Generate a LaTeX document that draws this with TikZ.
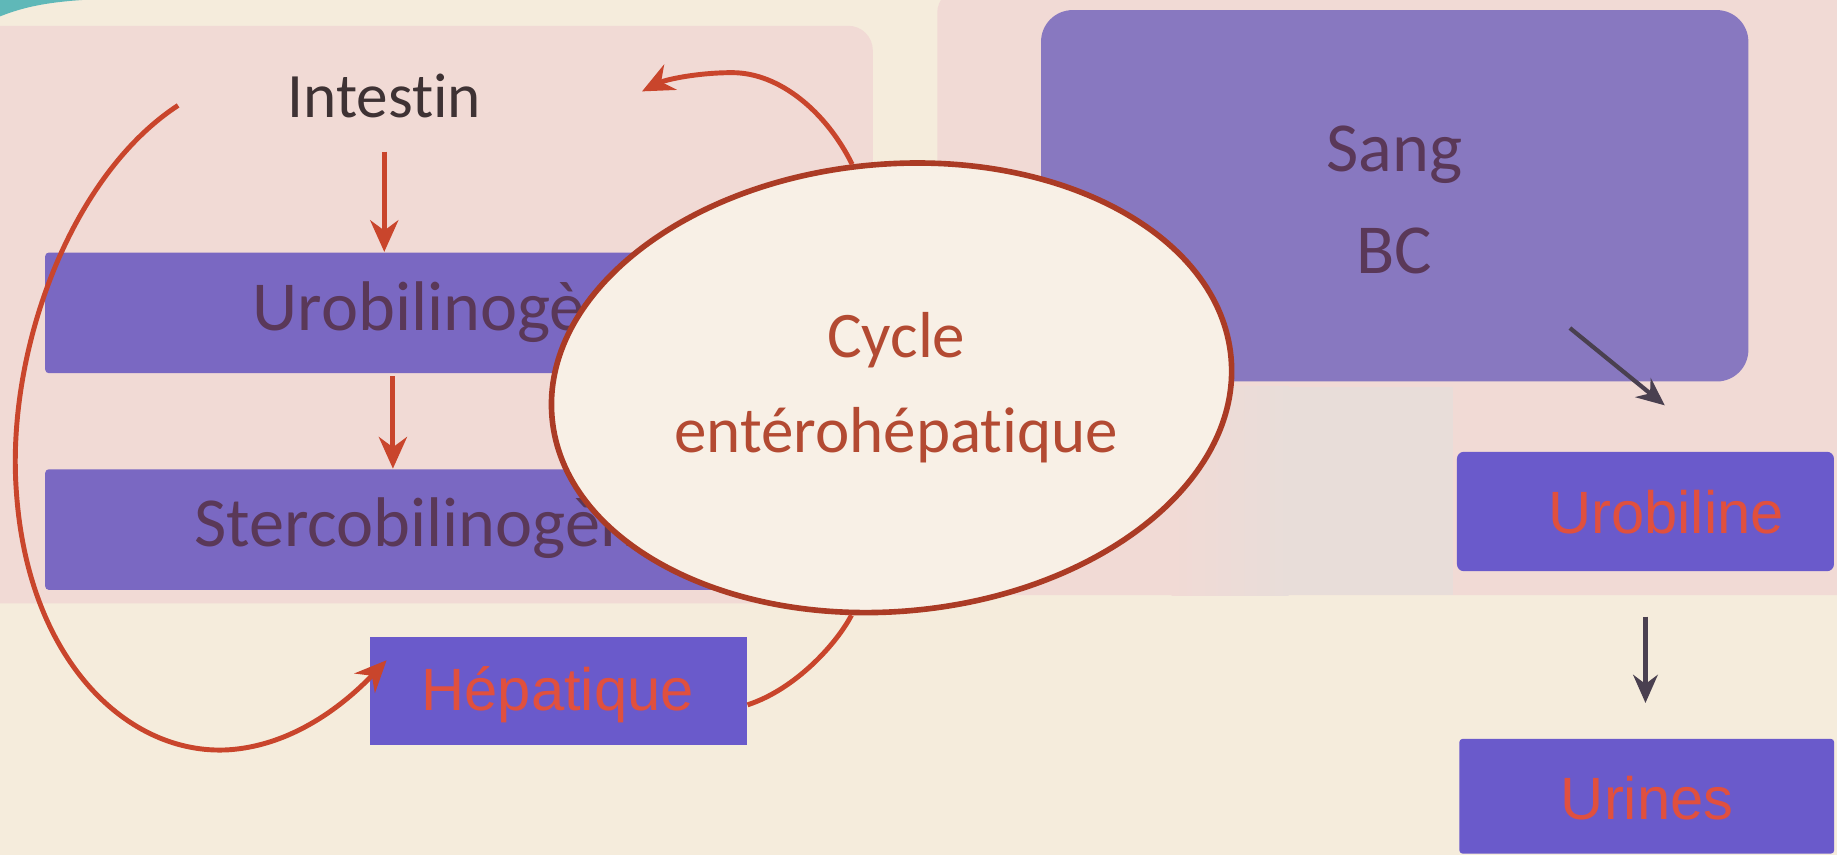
\documentclass[tikz,border=0pt]{standalone}
\usepackage{fontspec}
\setmainfont[Ligatures={NoCommon}]{Carlito}
\newfontfamily\arialfont{Liberation Sans}
\usetikzlibrary{arrows.meta,shapes.geometric}

\definecolor{paper}{HTML}{F5ECDC}
\definecolor{panel}{HTML}{F1DAD5}
\definecolor{panelgray}{HTML}{E8DDD9}
\definecolor{boxpurple}{HTML}{7A68C2}
\definecolor{boxlight}{HTML}{8878C0}
\definecolor{boxdeep}{HTML}{6A5ACB}
\definecolor{boxtext}{HTML}{5A3858}
\definecolor{flowred}{HTML}{C9452C}
\definecolor{redtext}{HTML}{E0503E}
\definecolor{cyclefill}{HTML}{F8F0E6}
\definecolor{cycletext}{HTML}{B34A32}
\definecolor{darkarrow}{HTML}{4A4050}
\definecolor{labeldark}{HTML}{3E3234}
\definecolor{slideedge}{HTML}{5FB8B8}

% one unit = 1/3 pt
\tikzset{
  px/.style={x=0.011716cm,y=-0.011716cm},
  stagebox/.style={fill=boxpurple,draw=none,rounded corners=1pt,inner sep=0pt},
  stagetext/.style={font=\fontsize{20}{22}\selectfont,text=boxtext,inner sep=0pt},
  redbox/.style={fill=boxdeep,draw=none,rounded corners=2pt,inner sep=0pt},
  redlabel/.style={font=\arialfont\fontsize{17}{20}\selectfont,text=redtext,inner sep=0pt},
  redflow/.style={draw=flowred,line width=1.4pt,-{Stealth[length=9pt,width=8pt]}},
  redcurve/.style={draw=flowred,line width=1.4pt},
  darkflow/.style={draw=darkarrow,line width=1.2pt,-{Stealth[length=8pt,width=7pt]}},
}

\begin{document}
\begin{tikzpicture}[px]
  % page and panels
  \fill[paper] (0,0) rectangle (1568,730);
  \useasboundingbox (0,0) rectangle (1568,730);
  \fill[slideedge] (0,0) -- (0,14) .. controls (20,6) and (40,2) .. (70,0) -- cycle;
  \fill[panel, rounded corners=7pt] (-20,22) rectangle (745,515);
  \fill[panel, rounded corners=7pt] (800,-10) rectangle (1590,508);
  \shade[left color=panel, right color=panelgray] (1000,330) rectangle (1100,508);
  \fill[panelgray] (1100,330) rectangle (1240,508);

  % left column
  \node[font=\fontsize{18}{20}\selectfont, text=labeldark] (intestin) at (328,82) {Intestin};
  \node[stagebox, minimum width=232.3pt, minimum height=34.3pt, anchor=north west] (urobilinogene) at (38,215) {};
  \node[stagetext, anchor=west] (urobilinogenelabel) at (215,266) {Urobilinogène};
  \node[stagebox, minimum width=222.3pt, minimum height=34.3pt, anchor=north west] (stercobilinogene) at (38,400) {};
  \node[stagetext, anchor=west] (stercobilinogenelabel) at (165,451) {Stercobilinogène};
  \node[redbox, rounded corners=0pt, minimum width=107.3pt, minimum height=30.7pt, anchor=north west] (hepatique) at (315,543) {};
  \node[redlabel] (hepatiquelabel) at (476,593) {Hépatique};

  % right column
  \node[fill=boxlight, rounded corners=9pt, minimum width=201.3pt, minimum height=105.7pt, anchor=north west] (sang) at (888,8) {};
  \node[stagetext] (sanglabel) at (1190,132) {Sang};
  \node[stagetext] (bclabel) at (1190,214) {BC};
  \node[redbox, minimum width=107.3pt, minimum height=34pt, anchor=north west] (urobiline) at (1243,385) {};
  \node[redlabel] (urobilinelabel) at (1422,437) {Urobiline};
  \node[redbox, rounded corners=1pt, minimum width=106.7pt, minimum height=32.7pt, anchor=north west] (urines) at (1245,630) {};
  \node[redlabel] (urineslabel) at (1406,681) {Urines};

  % straight arrows
  \draw[redflow] (intestin.south) ++(0,18) coordinate (i1) -- (i1 |- urobilinogene.north);
  \coordinate (u1) at ([xshift=-17.2pt]urobilinogene.south);
  \draw[redflow] (u1) ++(0,2) -- (u1 |- stercobilinogene.north);
  \coordinate (s1) at (1340,280);
  \draw[darkflow] (s1) -- (1421,346);
  \coordinate (ub) at ([yshift=-12.7pt]urobiline.south);
  \draw[darkflow] (ub) -- ([yshift=10pt]ub |- urines.north);

  % entero-hepatic cycle bubble
  \node[ellipse, fill=cyclefill, draw=flowred!85!black, line width=1.6pt,
        minimum width=194pt, minimum height=127.3pt, inner sep=0pt, rotate=5] (cycle) at (761,331) {};
  \node[text=cycletext, align=center, font=\fontsize{18.5}{22}\selectfont] (cyclelabel) at (765,331)
        {Cycle\\[5pt]entérohépatique};

  % cycle loops
  \coordinate (loopstart) at (152,90);
  \draw[redflow] (loopstart) .. controls (60,150) and (5,300) .. (14,420)
        .. controls (24,565) and (110,645) .. (195,640)
        .. controls (255,636) and (300,595) .. ([xshift=5pt,yshift=8.7pt]hepatique.west);
  \draw[redcurve] ([yshift=-4pt]hepatique.east) .. controls (680,588) and (715,548) .. (cycle.255);
  \draw[redflow] (cycle.95) .. controls (705,95) and (665,62) .. (625,62)
        .. controls (595,62) and (568,68) .. (548,78);
\end{tikzpicture}
\end{document}
